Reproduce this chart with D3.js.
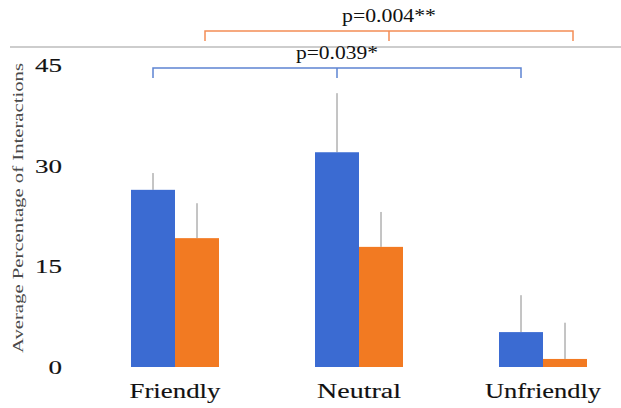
<!DOCTYPE html>
<html>
<head>
<meta charset="utf-8">
<script src="https://cdn.jsdelivr.net/npm/d3@7"></script>
<style>
  body { margin: 0; background: #fff; }
  text { font-family: "Times New Roman", "Liberation Serif", Times, serif; fill: #111; }
</style>
</head>
<body>
<svg width="621" height="408"></svg>
<script>
// data
const categories = ["Friendly", "Neutral", "Unfriendly"];
const series = ["blue", "orange"];
const blueValues = [26.4, 32.0, 5.2];
const blueErrTop = [28.9, 40.8, 10.7];
const orangeValues = [19.2, 17.9, 1.2];
const orangeErrTop = [24.4, 23.1, 6.6];
const yTicks = [0, 15, 30, 45];
const tests = [
    { label: "p=0.004**", series: "orange", from: "Friendly", to: "Unfriendly" },
    { label: "p=0.039*", series: "blue", from: "Friendly", to: "Unfriendly" }
];

const colors = { blue: "#3b6bd2", orange: "#f27a22" };
const bracketColors = { blue: "#5d84d2", orange: "#f38d55" };
const serif = "'Times New Roman', 'Liberation Serif', Times, serif";

const svg = d3.select("svg");

const x = d3.scaleBand().domain(categories).range([83, 635]);
const xs = d3.scaleBand().domain(series).range([-44, 44]);
const y = d3.scaleLinear().domain([0, 45]).range([367, 65]);

const rows = [];
categories.forEach((c, i) => {
    rows.push({ cat: c, s: "blue", v: blueValues[i], e: blueErrTop[i] });
    rows.push({ cat: c, s: "orange", v: orangeValues[i], e: orangeErrTop[i] });
});
const cx = d => x(d.cat) + x.bandwidth() / 2;

// thin gray rule at top
svg.append("line")
    .attr("x1", 10).attr("x2", 621)
    .attr("y1", 47).attr("y2", 47)
    .attr("stroke", "#bdbdbd").attr("stroke-width", 1.5);

// error bars (upper only)
svg.selectAll(".err")
    .data(rows)
    .enter()
    .append("line")
    .attr("x1", d => cx(d) + xs(d.s) + xs.bandwidth() / 2)
    .attr("x2", d => cx(d) + xs(d.s) + xs.bandwidth() / 2)
    .attr("y1", d => y(d.v))
    .attr("y2", d => y(d.e))
    .attr("stroke", "#8a8a8a")
    .attr("stroke-width", 1);

// bars
svg.selectAll(".bar")
    .data(rows)
    .enter()
    .append("rect")
    .attr("x", d => cx(d) + xs(d.s))
    .attr("y", d => y(d.v))
    .attr("width", xs.bandwidth())
    .attr("height", d => y(0) - y(d.v))
    .attr("fill", d => colors[d.s]);

// y tick labels
svg.selectAll(".ytick")
    .data(yTicks)
    .enter()
    .append("text")
    .attr("x", 62)
    .attr("y", d => y(d) + 7)
    .attr("text-anchor", "end")
    .attr("font-family", serif)
    .attr("font-size", 19)
    .attr("stroke", "#111").attr("stroke-width", 0.15)
    .attr("textLength", d => String(d).length * 13.5)
    .attr("lengthAdjust", "spacingAndGlyphs")
    .text(d => d);

// category labels
const catWidths = { Friendly: 91, Neutral: 84, Unfriendly: 116 };
svg.selectAll(".xlab")
    .data(categories)
    .enter()
    .append("text")
    .attr("x", d => x(d) + x.bandwidth() / 2)
    .attr("y", 398)
    .attr("text-anchor", "middle")
    .attr("font-family", serif)
    .attr("font-size", 22)
    .attr("stroke", "#111").attr("stroke-width", 0.15)
    .attr("textLength", d => catWidths[d])
    .attr("lengthAdjust", "spacingAndGlyphs")
    .text(d => d);

// y axis title
svg.append("text")
    .attr("transform", "translate(23,208) rotate(-90)")
    .attr("text-anchor", "middle")
    .attr("font-family", serif)
    .attr("font-size", 15)
    .attr("textLength", 290)
    .attr("lengthAdjust", "spacingAndGlyphs")
    .style("fill", "#4a4a4a")
    .text("Average Percentage of Interactions");

// significance brackets
const bracketY = { orange: 31, blue: 68 };
const labelW = { orange: 94, blue: 82 };
tests.forEach(t => {
    const shift = t.series === "orange" ? 8 : 0;
    const x1 = x(t.from) + x.bandwidth() / 2 + xs(t.series) + xs.bandwidth() / 2 + shift;
    const x2 = x(t.to) + x.bandwidth() / 2 + xs(t.series) + xs.bandwidth() / 2 + shift;
    const mid = (x1 + x2) / 2;
    const by = bracketY[t.series];
    const col = bracketColors[t.series];
    const g = svg.append("g").attr("stroke", col).attr("stroke-width", 1.5).attr("fill", "none");
    g.append("path").attr("d", `M${x1},${by + 10}V${by}H${x2}V${by + 10}`);
    g.append("line").attr("x1", mid).attr("x2", mid).attr("y1", by).attr("y2", by + 10);
    svg.append("text")
        .attr("x", mid)
        .attr("y", by - 9)
        .attr("text-anchor", "middle")
        .attr("font-family", serif)
        .attr("font-size", 19)
        .attr("textLength", labelW[t.series])
        .attr("lengthAdjust", "spacingAndGlyphs")
        .text(t.label);
});
</script>
</body>
</html>
